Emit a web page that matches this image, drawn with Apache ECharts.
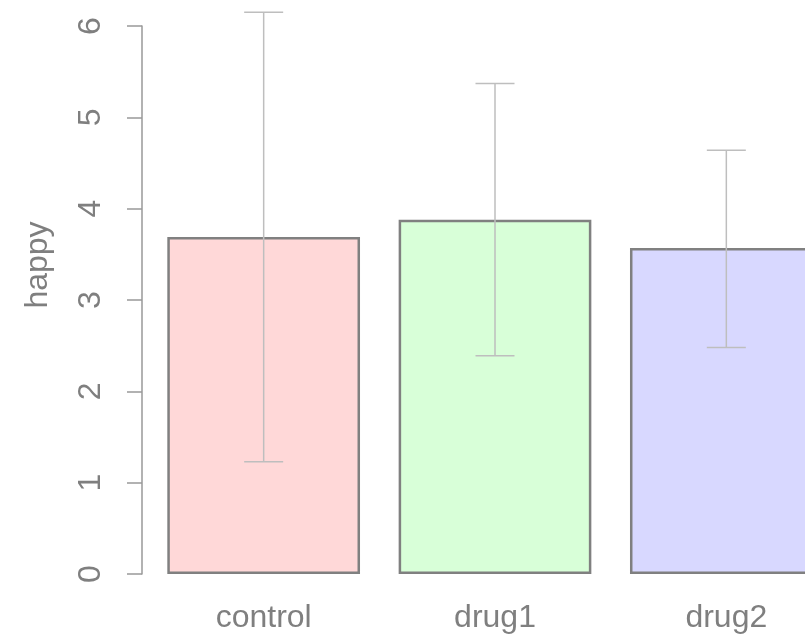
<!DOCTYPE html>
<html>
<head>
<meta charset="utf-8">
<script src="https://cdn.jsdelivr.net/npm/echarts@6/dist/echarts.min.js"></script>
<style>
  html, body { margin: 0; padding: 0; background: #fff; }
  #chart { width: 805px; height: 637px; }
</style>
</head>
<body>
<div id="chart"></div>
<script>
// data
const groups = ["control", "drug1", "drug2"];
const means = [3.69, 3.88, 3.57];
const errLow = [1.23, 2.39, 2.48];
const errHigh = [6.15, 5.37, 4.64];
const fills = ["#FFD8D8", "#D8FFD8", "#D8D8FF"];
const yTicks = [0, 1, 2, 3, 4, 5, 6];

const chart = echarts.init(document.getElementById("chart"));

const textGray = "#7f7f7f";
const font = "Liberation Sans, Arial, Helvetica, sans-serif";

let option = {
  animation: false,
  // plot area runs past the right edge, like the cropped original
  grid: { left: 148, width: 694, top: 26, bottom: 63, outerBoundsMode: "none", containLabel: false },
  xAxis: {
    type: "category",
    data: groups,
    axisLine: { show: false },
    axisTick: { show: false },
    axisLabel: { color: textGray, fontSize: 32, fontFamily: font, margin: 28 }
  },
  yAxis: {
    type: "value",
    min: yTicks[0],
    max: yTicks[yTicks.length - 1],
    interval: 1,
    offset: 6,
    name: "happy",
    nameLocation: "middle",
    nameRotate: 90,
    nameGap: 88,
    nameTextStyle: { color: textGray, fontSize: 32, fontFamily: font, padding: [0, 0, 0, 70] },
    splitLine: { show: false },
    axisLine: { show: true, lineStyle: { color: "#999", width: 1.5 } },
    axisTick: { show: true, length: 15, lineStyle: { color: "#999", width: 1.5 } },
    axisLabel: { color: textGray, fontSize: 32, fontFamily: font, rotate: 90, margin: 35 }
  },
  series: [
    {
      type: "bar",
      barCategoryGap: "16.7%",
      data: means.map((v, i) => ({
        value: v,
        itemStyle: { color: fills[i], borderColor: "#808080", borderWidth: 2.5 }
      })),
      z: 2
    },
    {
      type: "custom",
      z: 5,
      data: groups.map((g, i) => [i, errLow[i], errHigh[i]]),
      renderItem: function(params, api) {
        let lo = api.coord([api.value(0), api.value(1)]);
        let hi = api.coord([api.value(0), api.value(2)]);
        let half = 19.5;
        let style = { stroke: "#bebebe", lineWidth: 1.5 };
        return {
          type: "group",
          children: [
            { type: "line", shape: { x1: lo[0], y1: lo[1], x2: hi[0], y2: hi[1] }, style: style },
            { type: "line", shape: { x1: lo[0] - half, y1: lo[1], x2: lo[0] + half, y2: lo[1] }, style: style },
            { type: "line", shape: { x1: hi[0] - half, y1: hi[1], x2: hi[0] + half, y2: hi[1] }, style: style }
          ]
        };
      }
    }
  ]
};

chart.setOption(option);
</script>
</body>
</html>
